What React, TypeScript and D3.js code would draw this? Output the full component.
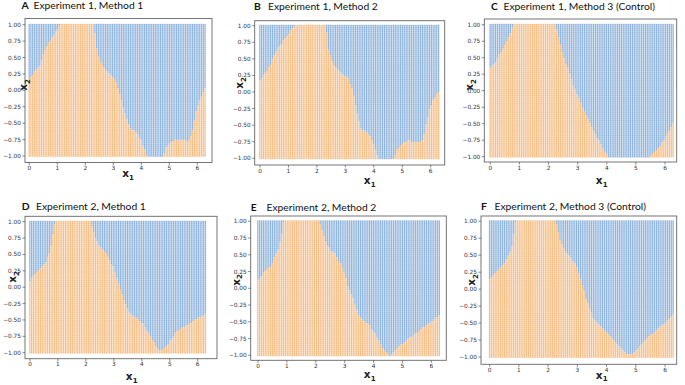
import * as d3 from "d3";

// panel labels and titles
const letters = ["A", "B", "C", "D", "E", "F"];
const titles = [
  "Experiment 1, Method 1",
  "Experiment 1, Method 2",
  "Experiment 1, Method 3 (Control)",
  "Experiment 2, Method 1",
  "Experiment 2, Method 2",
  "Experiment 2, Method 3 (Control)",
];

const xTicks = [0, 1, 2, 3, 4, 5, 6];
const yTicks = [1, 0.75, 0.5, 0.25, 0, -0.25, -0.5, -0.75, -1];

// decision boundary knots (orange below, blue above)
const boundAx = [0, 0.38, 0.56, 0.8, 1.1, 1.7, 2.32, 2.4, 2.52, 2.76, 3.06, 3.24, 3.42, 3.6, 3.83, 4.0, 4.19, 4.25, 4.52, 4.79, 4.9, 5.08, 5.32, 5.68, 5.8, 5.98, 6.1, 6.29];
const boundAy = [0.17, 0.39, 0.61, 0.79, 1.0, 1.3, 1.0, 0.66, 0.44, 0.31, 0.18, -0.05, -0.35, -0.58, -0.63, -0.76, -0.98, -1.01, -1.3, -1.01, -0.86, -0.78, -0.75, -0.77, -0.68, -0.3, -0.15, 0.05];

const boundBx = [0, 0.34, 0.63, 0.93, 1.22, 1.78, 2.33, 2.39, 2.57, 2.86, 3.09, 3.27, 3.39, 3.56, 3.86, 3.97, 4.09, 4.17, 4.44, 4.7, 4.85, 5.03, 5.2, 5.56, 5.73, 5.91, 6.08, 6.29];
const boundBy = [0.18, 0.38, 0.66, 0.83, 1.0, 1.3, 1.0, 0.68, 0.43, 0.28, 0.21, 0.03, -0.27, -0.55, -0.65, -0.75, -0.92, -1.01, -1.3, -1.01, -0.85, -0.77, -0.73, -0.76, -0.72, -0.35, -0.12, 0.0];

const boundCx = [0, 0.22, 0.5, 0.82, 1.5, 2.25, 2.45, 2.8, 3.14, 3.6, 4.05, 4.8, 5.49, 5.89, 6.29];
const boundCy = [0.34, 0.46, 0.69, 1.0, 1.3, 1.0, 0.62, 0.16, -0.22, -0.65, -1.01, -1.3, -1.01, -0.8, -0.5];

const boundDx = [0, 0.3, 0.54, 0.72, 0.84, 0.9, 1.55, 2.18, 2.33, 2.51, 2.74, 2.98, 3.16, 3.34, 3.52, 3.76, 4.06, 4.36, 4.53, 4.69, 4.89, 5.25, 5.61, 6.29];
const boundDy = [0.1, 0.26, 0.36, 0.54, 0.84, 1.0, 1.3, 1.0, 0.77, 0.61, 0.51, 0.31, 0.08, -0.18, -0.35, -0.46, -0.56, -0.79, -0.91, -0.97, -0.9, -0.68, -0.58, -0.41];

const boundEx = [0, 0.23, 0.46, 0.69, 0.81, 0.9, 1.5, 2.13, 2.31, 2.48, 2.71, 2.94, 3.11, 3.34, 3.52, 3.81, 4.04, 4.33, 4.56, 4.73, 5.08, 5.54, 6.29];
const boundEy = [0.12, 0.24, 0.34, 0.57, 0.79, 1.0, 1.3, 1.0, 0.74, 0.59, 0.49, 0.29, 0.04, -0.2, -0.43, -0.53, -0.65, -0.9, -1.01, -0.94, -0.8, -0.65, -0.4];

const boundFx = [0, 0.3, 0.52, 0.75, 0.84, 0.89, 1.6, 2.26, 2.41, 2.58, 2.81, 2.98, 3.15, 3.32, 3.55, 3.83, 4.17, 4.52, 4.74, 4.91, 5.2, 5.66, 6.29];
const boundFy = [0.145, 0.28, 0.38, 0.6, 0.84, 1.0, 1.3, 1.0, 0.72, 0.57, 0.45, 0.33, 0.08, -0.16, -0.43, -0.56, -0.71, -0.88, -0.97, -0.95, -0.8, -0.63, -0.38];

const bounds = [
  [boundAx, boundAy],
  [boundBx, boundBy],
  [boundCx, boundCy],
  [boundDx, boundDy],
  [boundEx, boundEy],
  [boundFx, boundFy],
];

// where each sub-figure sits in the composite (pixels)
const layout = [
  { fl: 25, ft: 18.5, fr: 212, fb: 162.5, x0: 29.3, x6: 197.3, y1: 24.7, ym1: 156, lx: 21.5, tx: 33.5, ty: 9.3, xlx: 128, xly: 177, ylx: 27, yly: 85 },
  { fl: 254.7, ft: 20.7, fr: 444.7, fb: 165, x0: 260, x6: 430.7, y1: 25.7, ym1: 158.3, lx: 254, tx: 268, ty: 10, xlx: 369.7, xly: 184, ylx: 243, yly: 83 },
  { fl: 484.3, ft: 19, fr: 676.7, fb: 162, x0: 490.3, x6: 665, y1: 24.7, ym1: 156.7, lx: 491, tx: 503.5, ty: 10, xlx: 601.7, xly: 184, ylx: 473, yly: 85 },
  { fl: 25, ft: 216.3, fr: 217, fb: 358.7, x0: 30, x6: 197.7, y1: 221.7, ym1: 352.7, lx: 21.7, tx: 36, ty: 209.5, xlx: 131.7, xly: 380, ylx: 16, yly: 277 },
  { fl: 250.7, ft: 216, fr: 446.3, fb: 360.3, x0: 258, x6: 431.3, y1: 221.3, ym1: 355.3, lx: 250.7, tx: 266.5, ty: 210.5, xlx: 369.7, xly: 378, ylx: 239.7, yly: 280 },
  { fl: 481, ft: 216, fr: 676.7, fb: 364.3, x0: 489.7, x6: 665, y1: 221.3, ym1: 357, lx: 481, tx: 494.5, ty: 209.5, xlx: 601.7, xly: 378.5, ylx: 475, yly: 280 },
];

const NX = 100;
const NY = 70;
const gridX = d3.range(NX).map((i) => (i * 2 * Math.PI) / (NX - 1));
const gridY = d3.range(NY).map((j) => -1 + (j * 2) / (NY - 1));

const BLUE = "#86aedb";
const ORANGE = "#f6b87c";
const FONT = "'DejaVu Sans', sans-serif";

function Panel({ idx }: { idx: number }) {
  const L = layout[idx];
  const [bx, by] = bounds[idx];
  const x = d3.scaleLinear([0, 6], [L.x0, L.x6]);
  const y = d3.scaleLinear([-1, 1], [L.ym1, L.y1]);
  const f = d3.scaleLinear(bx, by).clamp(true);
  const cw = x(gridX[1]) - x(gridX[0]);
  const rh = y(gridY[0]) - y(gridY[1]);
  const yBot = y(-1) + rh * 0.45;
  const yTop = y(1) - rh * 0.45;

  return (
    <g>
      {gridX.map((gx, i) => {
        const b = f(gx);
        const nOrange = gridY.filter((gy) => gy < b).length;
        const cut = nOrange === 0 ? yBot : nOrange === NY ? yTop : y(gridY[nOrange]) + rh / 2;
        const left = x(gx) - cw * 0.45;
        return (
          <g key={i}>
            {nOrange > 0 && <rect x={left} width={cw * 0.72} y={cut} height={yBot - cut} fill={ORANGE} />}
            {nOrange < NY && <rect x={left} width={cw * 0.72} y={yTop} height={cut - yTop} fill={BLUE} />}
          </g>
        );
      })}
      {gridY.map((gy, j) => (
        <line key={j} x1={x(0) - cw} x2={x(2 * Math.PI) + cw} y1={y(gy) + rh / 2} y2={y(gy) + rh / 2}
          stroke="#fff" strokeOpacity={0.35} strokeWidth={0.6} />
      ))}
      <rect x={L.fl} y={L.ft} width={L.fr - L.fl} height={L.fb - L.ft} fill="none" stroke="#666" strokeWidth={0.9} />
      {xTicks.map((t) => (
        <g key={t} transform={`translate(${x(t)},${L.fb})`}>
          <line y2={2.5} stroke="#555" strokeWidth={0.7} />
          <text y={7.5} textAnchor="middle" fontSize={5.8} fill="#333" fontFamily={FONT}>{t}</text>
        </g>
      ))}
      {yTicks.map((t) => (
        <g key={t} transform={`translate(${L.fl},${y(t)})`}>
          <line x2={-2.5} stroke="#555" strokeWidth={0.7} />
          <text x={-4} dy="0.35em" textAnchor="end" fontSize={5.8} fill="#333" fontFamily={FONT}>{d3.format(".2f")(t)}</text>
        </g>
      ))}
      <text x={L.lx} y={L.ty} fontSize={10.3} fontWeight="bold" fill="#111" fontFamily="Lato, sans-serif">{letters[idx]}</text>
      <text x={L.tx} y={L.ty} fontSize={10.3} fill="#111" fontFamily="Lato, sans-serif">{titles[idx]}</text>
      <text x={L.xlx} y={L.xly} textAnchor="middle" fontSize={10.5} fontWeight="bold" fill="#222" fontFamily={FONT}>
        x<tspan fontSize={7} dy={2.5}>1</tspan>
      </text>
      <text transform={`translate(${L.ylx},${L.yly}) rotate(-90)`} textAnchor="middle" fontSize={10.5} fontWeight="bold" fill="#222" fontFamily={FONT}>
        x<tspan fontSize={7} dy={2.5}>2</tspan>
      </text>
    </g>
  );
}

export default function App() {
  return (
    <svg width={685} height={385} style={{ position: "absolute", left: 0, top: 0, background: "#fff" }}>
      {layout.map((_, i) => (
        <Panel key={i} idx={i} />
      ))}
    </svg>
  );
}
